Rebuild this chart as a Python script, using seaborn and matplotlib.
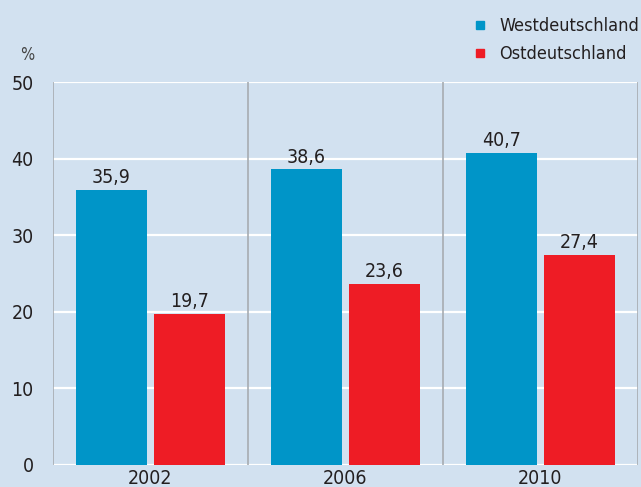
"""Bar chart: Westdeutschland vs. Ostdeutschland, 2002-2010."""

import matplotlib
matplotlib.use("Agg")
import matplotlib.pyplot as plt
import pandas as pd
import seaborn as sns
from matplotlib import font_manager
from matplotlib.lines import Line2D

years = ["2002", "2006", "2010"]
west = [35.9, 38.6, 40.7]
east = [19.7, 23.6, 27.4]
series_names = ["Westdeutschland", "Ostdeutschland"]
yticks = [0, 10, 20, 30, 40, 50]

BG = "#d2e1f0"
BLUE = "#0095c8"
RED = "#ee1c25"
TXT = "#231f20"

df = pd.DataFrame({
    "Jahr": years * 2,
    "Wert": west + east,
    "Region": [series_names[0]] * 3 + [series_names[1]] * 3,
})

sns.set_theme(style="white")

# pick a narrow face if one is around
names = {f.name for f in font_manager.fontManager.ttflist}
if "Liberation Sans Narrow" in names:
    plt.rcParams["font.family"] = ["Liberation Sans Narrow", "DejaVu Sans"]
else:
    plt.rcParams["font.family"] = ["DejaVu Sans"]
    plt.rcParams["font.stretch"] = "condensed"

fig = plt.figure(figsize=(6.41, 4.87), dpi=100, facecolor=BG)
ax = fig.add_axes([0.0827, 0.0452, 0.9123, 0.7864], facecolor=BG)

sns.barplot(df, x="Jahr", y="Wert", hue="Region", palette=[BLUE, RED],
            saturation=1, width=0.8, gap=0.09, legend=False, ax=ax,
            zorder=3, linewidth=0)

ax.set_ylim(0, 50)
ax.set_xlim(-0.5, 2.5)
ax.set_yticks(yticks)
ax.set_yticklabels([str(t) for t in yticks])
ax.yaxis.grid(True, color="white", lw=1.6, zorder=1)
ax.set_axisbelow(True)
for x in [-0.5, 0.5, 1.5, 2.5]:
    ax.axvline(x, color="#a7acb1", lw=1.2, zorder=2)

for s in ax.spines.values():
    s.set_visible(False)
ax.tick_params(axis="both", length=0, labelsize=14, colors=TXT)
ax.tick_params(axis="y", pad=14)
ax.tick_params(axis="x", pad=3)
ax.set_xlabel("")
ax.set_ylabel("")

for cont in ax.containers:
    ax.bar_label(cont, labels=[f"{v:.1f}".replace(".", ",") for v in cont.datavalues],
                 padding=2, fontsize=14, color=TXT)

fig.text(0.042, 0.887, "%", fontsize=12, color="#444", ha="center", va="center")

handles = [Line2D([], [], marker="s", ls="", color=c, markersize=6) for c in [BLUE, RED]]
fig.legend(handles, series_names, loc="upper right", bbox_to_anchor=(1.022, 0.998),
           frameon=False, fontsize=13, handletextpad=0.55, labelspacing=0.55,
           handlelength=1.0, labelcolor=TXT)

fig.savefig("out.png", dpi=100, facecolor=BG)
